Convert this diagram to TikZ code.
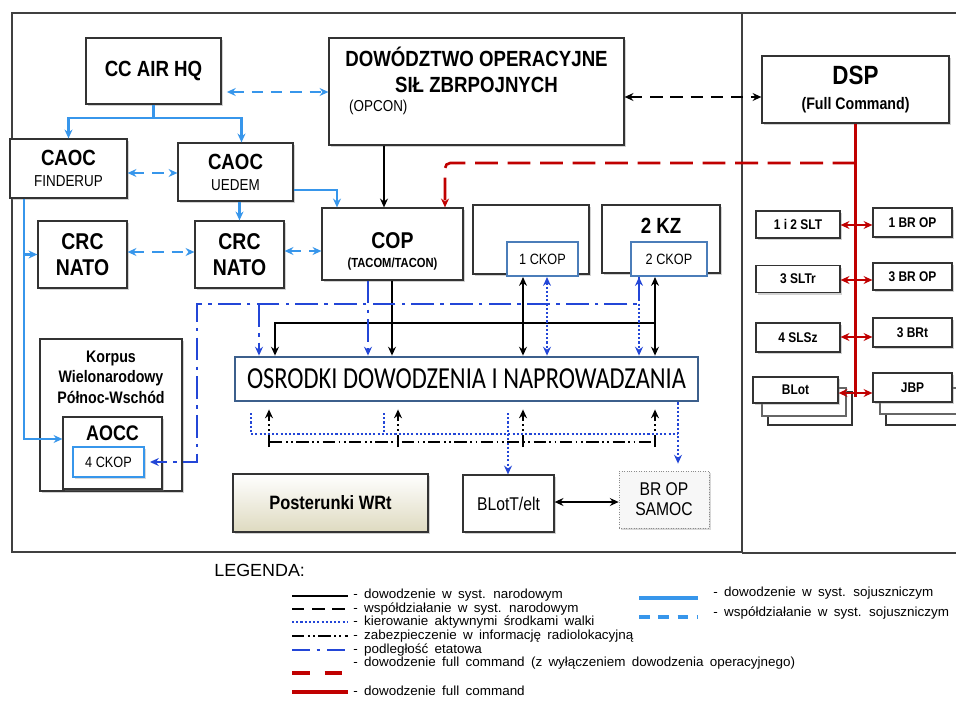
\documentclass[tikz,border=0pt]{standalone}
\usepackage{fontspec}
\setmainfont{Liberation Sans}[FakeStretch=0.85]
\newfontfamily\osfont{Carlito}[FakeStretch=0.8]
\newfontfamily\legfont{Liberation Sans}[FakeStretch=1.02]
\newcommand{\legspace}{\spaceskip=3.6pt plus 1pt\relax}
\definecolor{sojblue}{RGB}{55, 150, 235}
\definecolor{podlblue}{RGB}{35, 70, 215}
\definecolor{fcred}{RGB}{192, 0, 0}
\definecolor{osborder}{RGB}{60, 95, 140}
\definecolor{ckopborder}{RGB}{75, 125, 185}
\definecolor{wrtbeige}{RGB}{222, 218, 192}
\usepackage{tikz}
\usetikzlibrary{arrows.meta, positioning, calc, shadows, backgrounds}

\begin{document}
\begin{tikzpicture}[x=0.02cm, y=-0.02cm,
  sz/.style 2 args={minimum width=#1*0.02cm, minimum height=#2*0.02cm},
  unitbox/.style={draw=black!80, line width=0.7pt, fill=white, inner sep=1pt, align=center, drop shadow={shadow xshift=1.2pt, shadow yshift=-1.2pt, opacity=0.35}},
  ckopbox/.style={draw=ckopborder, line width=1.2pt, fill=white, inner sep=1pt, font=\fontsize{8.5}{10}\selectfont},
  rbox/.style={unitbox, sz={84}{27}, font=\bfseries\fontsize{8}{9}\selectfont},
  nar/.style={black, line width=1.2pt},
  narwsp/.style={nar, dash pattern=on 7pt off 4.5pt},
  soj/.style={sojblue, line width=1.2pt},
  sojwsp/.style={soj, dash pattern=on 6.5pt off 4.5pt},
  kier/.style={podlblue, line width=1.3pt, dash pattern=on 1.2pt off 1.2pt},
  radar/.style={black, line width=0.8pt, dash pattern=on 7pt off 2pt on 1pt off 2pt on 1pt off 2pt},
  podl/.style={podlblue, line width=1.3pt, dash pattern=on 13pt off 3.5pt on 2pt off 3.5pt},
  fc/.style={fcred, line width=1.5pt},
  fcdash/.style={fc, dash pattern=on 13pt off 5.5pt},
  legtext/.style={anchor=west, inner sep=0pt, font=\legfont\fontsize{7.5}{8}\selectfont\legspace},
  >={Stealth[length=5pt, width=4.5pt]}
]
  \fill[white] (0,0) rectangle (956,716);
  \useasboundingbox (0,0) rectangle (956,716);

  % frame
  \draw[black!75, line width=0.6pt] (12,13) rectangle (742,552);
  \draw[black!75, line width=0.6pt] (742,13) -- (960,13) (742,553) -- (960,553);

  % top row
  \node[unitbox, sz={135}{66}, font=\bfseries\fontsize{12.5}{14}\selectfont] (ccair) at (153.5,71) {CC AIR HQ};
  \node[unitbox, sz={295}{107}] (dow) at (476.5,91.5) {};
  \node[align=center, font=\bfseries\fontsize{12.5}{14.7}\selectfont] (downame) at (476.5,70) {DOWÓDZTWO OPERACYJNE\\SIŁ ZBRPOJNYCH};
  \node[anchor=west, font=\fontsize{9}{10}\selectfont] (opcon) at (343,107) {(OPCON)};
  \node[unitbox, sz={187}{67}] (dsp) at (855.5,89.5) {{\bfseries\fontsize{15}{16}\selectfont DSP}\\[2pt]{\bfseries\fontsize{9.5}{11}\selectfont (Full Command)}};

  % allied side
  \node[unitbox, sz={117}{59}] (caoc1) at (68.5,168.5) {{\bfseries\fontsize{12.5}{14}\selectfont CAOC}\\{\fontsize{9}{11}\selectfont FINDERUP}};
  \node[unitbox, sz={115}{58}] (caoc2) at (235.5,172) {{\bfseries\fontsize{12.5}{14}\selectfont CAOC}\\{\fontsize{9}{11}\selectfont UEDEM}};
  \node[unitbox, sz={89}{67}, font=\bfseries\fontsize{13}{14.7}\selectfont] (crc1) at (82.5,254.5) {CRC\\NATO};
  \node[unitbox, sz={89}{67}, font=\bfseries\fontsize{13}{14.7}\selectfont] (crc2) at (239.5,254.5) {CRC\\NATO};
  \node[unitbox, sz={141}{72}] (cop) at (392.5,244) {};
  \node[font=\bfseries\fontsize{13}{14}\selectfont] (copname) at (392.5,241) {COP};
  \node[font=\bfseries\fontsize{7.5}{9}\selectfont] (copmode) at (392.5,264) {(TACOM/TACON)};

  % corps
  \node[unitbox, sz={116}{69}] (kz1) at (531,239.5) {};
  \node[ckopbox, sz={71}{34}] (ckop1) at (542.5,259) {1 CKOP};
  \node[unitbox, sz={118}{68}] (kz2) at (661,239) {};
  \node[font=\bfseries\fontsize{12.5}{14}\selectfont] (kzname) at (661,226) {2 KZ};
  \node[ckopbox, sz={76}{34}] (ckop2) at (669,259) {2 CKOP};

  \node[unitbox, sz={142}{152}] (korpus) at (111,415) {};
  \node[align=center, font=\bfseries\fontsize{9.5}{11.6}\selectfont] (korpusname) at (111,377) {Korpus\\Wielonarodowy\\Północ-Wschód};
  \node[unitbox, sz={99}{72}] (aocc) at (112.5,453) {};
  \node[font=\bfseries\fontsize{12}{14}\selectfont] (aoccname) at (112.5,433) {AOCC};
  \node[draw=sojblue, line width=0.8pt, fill=white, sz={71}{30}, font=\fontsize{8.5}{10}\selectfont, drop shadow={shadow xshift=1pt, shadow yshift=-1pt, opacity=0.3}] (ckop4) at (108.5,462) {4 CKOP};

  \node[draw=osborder, line width=1.6pt, fill=white, sz={463}{44}, font=\osfont\fontsize{17.4}{20}\selectfont] (osrodki) at (466.5,379) {OSRODKI DOWODZENIA I NAPROWADZANIA};

  \node[unitbox, sz={195}{58}, top color=white, bottom color=wrtbeige, font=\bfseries\fontsize{11}{13}\selectfont] (posterunki) at (330.5,503) {Posterunki WRt};
  \node[unitbox, sz={91}{57}, font=\fontsize{10.5}{12}\selectfont] (blott) at (508.5,503.5) {BLotT/elt};
  \node[draw=black!45, densely dotted, fill=black!3, sz={90}{57}, align=center, font=\fontsize{10.5}{11.3}\selectfont, drop shadow={shadow xshift=1.2pt, shadow yshift=-1.2pt, opacity=0.3}] (samoc) at (664,499.5) {BR OP\\SAMOC};

  % right panel
  \node[rbox] (slt) at (798,224.5) {1 i 2 SLT};
  \node[rbox, sz={79}{29}] (brop1) at (912.5,222.5) {1 BR OP};
  \node[rbox] (sltr) at (798,279) {3 SLTr};
  \node[rbox, sz={79}{27}] (brop3) at (912.5,276.5) {3 BR OP};
  \node[rbox, sz={84}{29}] (slsz) at (798,337.5) {4 SLSz};
  \node[rbox, sz={79}{29}] (brt) at (912.5,332.5) {3 BRt};
  \draw[black!80, line width=0.9pt, fill=white] (768,392) rectangle (852,425);
  \draw[black!60, line width=0.7pt, fill=white] (762,388) rectangle (846,416);
  \node[rbox, sz={85}{26}] (blot) at (795.5,390) {BLot};
  \draw[black!80, line width=0.9pt, fill=white] (886,392) rectangle (965,425);
  \draw[black!60, line width=0.7pt, fill=white] (880,388) rectangle (960,414);
  \node[rbox, sz={79}{29}] (jbp) at (912.5,387.5) {JBP};

  % allied command and cooperation
  \draw[soj] (ccair.south) -- ++(0,13) coordinate (hqsplit);
  \draw[soj,->] (hqsplit) -| (caoc1.north);
  \draw[soj,->] (hqsplit) -| ($(caoc2.north)+(6,0)$);
  \draw[sojwsp,<->, shorten <=3pt] (ccair.east |- 0,92) -- (dow.west |- 0,92);
  \draw[sojwsp,<->] (caoc1.east |- 0,173) -- (caoc2.west |- 0,173);
  \draw[sojwsp,<->] (crc1.east |- 0,252) -- (crc2.west |- 0,252);
  \draw[sojwsp,<->] (crc2.east |- 0,251) -- (cop.west |- 0,251);
  \draw[soj,->] (crc2.north |- caoc2.south) -- (crc2.north);
  \draw[soj,->] (caoc2.east |- 0,190) -| (cop.north -| 337,0);
  \draw[soj,->] (caoc1.south -| 24,0) |- (aocc.west |- 0,439);
  \draw[soj,->] (crc1.west -| 24,0) -- (crc1.west);

  % national command
  \coordinate (natrunk) at (655,323);
  \coordinate (lowtrunk) at (593,502);
  \draw[nar,->] (dow.south -| 384,0) -- (cop.north -| 384,0);
  \draw[narwsp,<->] (dow.east |- 0,97) -- (dsp.west |- 0,97);
  \draw[nar,->] (cop.south -| 392,0) -- (osrodki.north -| 392,0);
  \draw[nar,->] (natrunk) -| (osrodki.north -| 275,0);
  \draw[nar,<->] (ckop1.south -| 523,0) -- (osrodki.north -| 523,0);
  \draw[nar,<->] (ckop2.south -| 655,0) -- (osrodki.north -| 655,0);
  \begin{scope}[on background layer]
    \draw[nar] (natrunk -| lowtrunk) -- (lowtrunk);
    \draw[radar,->] (posterunki.north -| 336,0) -- (cop.south -| 336,0);
  \end{scope}
  \draw[nar,<->] (blott.east |- lowtrunk) -- (samoc.west |- lowtrunk);

  % radar information
  \draw[radar] (270,442) -- (655,442);
  \foreach \x in {269,398,523,655}
    \draw[radar,->, shorten >=4pt] (\x,447) -- (osrodki.south -| \x,0);

  % fire control
  \draw[kier] (251,413) |- (678,434);
  \draw[kier] (384,413) -- (384,434);
  \draw[kier,->] (508,413) -- (blott.north -| 508,0);
  \draw[kier,->, shorten >=4pt] (osrodki.south -| 678,0) -- (samoc.north -| 678,0);
  \draw[kier,<->] (ckop1.south -| 547,0) -- (osrodki.north -| 547,0);
  \draw[kier,<->] (ckop2.south -| 639,0) -- (osrodki.north -| 639,0);

  % subordination
  \draw[podl,->, shorten >=3pt] (ckop2.south -| 639,0) |- (197,304) |- (ckop4.east);
  \draw[podl,->] (259,304) -- (osrodki.north -| 259,0);
  \draw[podl,->] (cop.south -| 368,0) -- (osrodki.north -| 368,0);

  % full command
  \draw[fc] (dsp.south) -- (dsp.south |- 0,397);
  \draw[fcdash,->, rounded corners=3pt] (dsp.south |- 0,163) -| (cop.north -| 445,0);
  \draw[fc,<->] (slt.east |- 0,225) -- (brop1.west |- 0,225);
  \draw[fc,<->] (sltr.east |- 0,280) -- (brop3.west |- 0,280);
  \draw[fc,<->] (slsz.east |- 0,337) -- (brt.west |- 0,337);
  \draw[fc,<->] (blot.east |- 0,393) -- (jbp.west |- 0,393);

  % legend
  \node[anchor=west, inner sep=0pt, font=\legfont\fontsize{10}{12}\selectfont] (legenda) at (214,570) {LEGENDA:};
  \draw[nar, line width=1.6pt] (292,596) -- (348,596);
  \node[legtext] (leg1) at (353,595) {- dowodzenie w syst. narodowym};
  \draw[narwsp, line width=1.6pt] (292,609) -- (348,609);
  \node[legtext] (leg2) at (353,609) {- współdziałanie w syst. narodowym};
  \draw[kier] (292,622) -- (348,622);
  \node[legtext] (leg3) at (353,622) {- kierowanie aktywnymi środkami walki};
  \draw[radar, line width=1pt] (292,636) -- (348,636);
  \node[legtext] (leg4) at (353,636) {- zabezpieczenie w informację radiolokacyjną};
  \draw[podl, line width=1.6pt, dash pattern=on 10pt off 4pt on 2pt off 4pt] (292,650) -- (348,650);
  \node[legtext] (leg5) at (353,650) {- podległość etatowa};
  \draw[fc, line width=2pt, dash pattern=on 10pt off 8.5pt] (292,673) -- (348,673);
  \node[legtext] (leg6) at (353,663) {- dowodzenie full command (z wyłączeniem dowodzenia operacyjnego)};
  \draw[fc, line width=2pt] (292,692) -- (348,692);
  \node[legtext] (leg7) at (353,691) {- dowodzenie full command};
  \draw[soj, line width=1.8pt] (639,598) -- (698,598);
  \node[legtext] (leg8) at (713,593) {- dowodzenie w syst. sojuszniczym};
  \draw[sojwsp, line width=1.8pt, dash pattern=on 6pt off 5pt] (639,617) -- (698,617);
  \node[legtext] (leg9) at (713,613) {- współdziałanie w syst. sojuszniczym};
\end{tikzpicture}
\end{document}
